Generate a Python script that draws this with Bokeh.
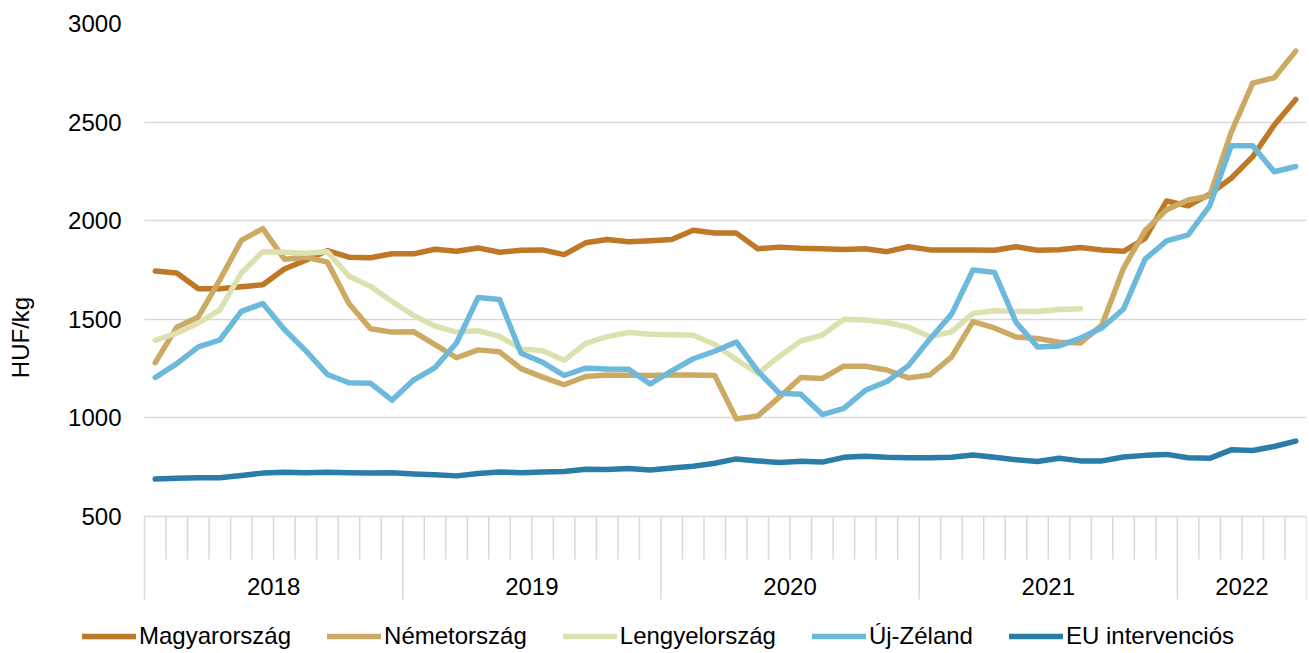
from bokeh.plotting import figure
from bokeh.models import Range1d, FixedTicker, Legend, LegendItem
from bokeh.core.properties import value
from bokeh.embed import file_html
from bokeh.resources import INLINE

# ---- data -------------------------------------------------------------
years = ["2018", "2019", "2020", "2021", "2022"]
months_per_year = [12, 12, 12, 12, 6]

series_names = ["Magyarország", "Németország", "Lengyelország", "Új-Zéland", "EU intervenciós"]

magyarorszag = [1745, 1735, 1655, 1655, 1665, 1675, 1755, 1800, 1848, 1815, 1812, 1832,
                1832, 1855, 1845, 1862, 1840, 1850, 1852, 1828, 1888, 1905, 1893, 1898,
                1905, 1952, 1938, 1937, 1858, 1866, 1860, 1858, 1854, 1858, 1843, 1868,
                1852, 1851, 1852, 1850, 1868, 1850, 1853, 1864, 1851, 1845, 1910, 2100,
                2075, 2135, 2215, 2325, 2485, 2615]

nemetorszag = [1280, 1460, 1512, 1700, 1900, 1960, 1805, 1815, 1790, 1580, 1452, 1435,
               1437, 1372, 1305, 1345, 1335, 1250, 1207, 1168, 1210, 1218, 1216, 1215,
               1217, 1218, 1215, 995, 1010, 1105, 1205, 1200, 1262, 1262, 1243, 1203,
               1218, 1308, 1488, 1456, 1410, 1403, 1384, 1380, 1472, 1760, 1950, 2055,
               2105, 2125, 2448, 2698, 2725, 2860]

lengyelorszag = [1393, 1430, 1480, 1548, 1735, 1843, 1840, 1835, 1843, 1718, 1667, 1590,
                 1520, 1466, 1435, 1442, 1413, 1350, 1340, 1292, 1378, 1412, 1433, 1424,
                 1422, 1419, 1372, 1296, 1225, 1312, 1390, 1420, 1500, 1497, 1484, 1460,
                 1412, 1436, 1530, 1543, 1540, 1540, 1550, 1554]

uj_zeland = [1205, 1275, 1360, 1395, 1540, 1580, 1448, 1340, 1220, 1178, 1176, 1090,
             1192, 1255, 1380, 1610, 1600, 1328, 1282, 1215, 1252, 1248, 1247, 1172,
             1238, 1300, 1338, 1385, 1237, 1125, 1120, 1017, 1048, 1140, 1185, 1265,
             1400, 1525, 1750, 1738, 1485, 1360, 1365, 1405, 1457, 1553, 1805, 1898,
             1928, 2075, 2380, 2380, 2248, 2275]

eu_intervencios = [690, 694, 697, 696, 708, 720, 724, 722, 724, 722, 720, 722,
                   716, 712, 706, 718, 726, 722, 726, 728, 740, 738, 743, 736,
                   746, 755, 770, 792, 782, 774, 780, 776, 800, 805, 800, 798,
                   798, 800, 812, 800, 788, 779, 795, 782, 782, 802, 810, 815,
                   798, 795, 838, 835, 855, 882]

y_ticks = [500, 1000, 1500, 2000, 2500, 3000]

# ---- style ------------------------------------------------------------
colors = ["#BF7826", "#CDAA64", "#DDE1AF", "#6DB9DC", "#2A7DA9"]
grid_color = "#D9D9D9"
font = "Liberation Sans"
fsize = "24px"

n_months = sum(months_per_year)
bounds = [0]
for m in months_per_year:
    bounds.append(bounds[-1] + m)
centers = [(bounds[k] + bounds[k + 1]) / 2 for k in range(len(years))]
minor = [m for m in range(1, n_months) if m not in bounds]

y_min, y_max = y_ticks[0], y_ticks[-1]
plot_w = 1162                     # px covered by the months
plot_h = 493                      # px between 500 and 3000
K = (y_max - y_min) / plot_h      # data units per pixel (y)
KX = n_months / plot_w            # months per pixel (x)
left_px = 66                      # frame room left of the first month (legend start)
long_tick = 83                    # px, year separators
short_tick = 43                   # px, month ticks
label_off = 70                    # px, year labels below axis
below_px = 135                    # px of frame kept below the 500 line (ticks + legend)
y_lo = y_min - below_px * K
x_lo = -left_px * KX

p = figure(frame_width=plot_w + left_px, frame_height=plot_h + below_px,
           x_range=Range1d(x_lo, n_months), y_range=Range1d(y_lo, y_max),
           output_backend="svg", toolbar_location=None, x_axis_type=None,
           min_border_left=78, min_border_right=2, min_border_top=23, min_border_bottom=0)
p.outline_line_color = None
p.background_fill_color = "white"
p.border_fill_color = "white"

# y axis
yt = FixedTicker(ticks=y_ticks, minor_ticks=[])
p.yaxis.ticker = yt
p.xgrid.visible = False
grid = p.ygrid[0]
grid.ticker = yt
grid.grid_line_color = grid_color
grid.grid_line_width = 1.5
if "cross_bounds" in grid.properties():
    grid.cross_bounds = (0, n_months)
else:
    grid.visible = False
    p.segment(x0=[0] * len(y_ticks), y0=y_ticks, x1=[n_months] * len(y_ticks), y1=y_ticks,
              line_color=grid_color, line_width=1.5, level="underlay")

ya = p.yaxis[0]
ya.axis_line_color = None
ya.major_tick_line_color = None
ya.minor_tick_line_color = None
ya.major_tick_out = 0
ya.major_tick_in = 0
ya.minor_tick_out = 0
ya.minor_tick_in = 0
ya.major_label_text_font = font
ya.major_label_text_font_size = fsize
ya.major_label_text_color = "black"
ya.major_label_standoff = -(left_px - 23)
ya.axis_label = "HUF/kg"
ya.axis_label_text_font = font
ya.axis_label_text_font_size = fsize
ya.axis_label_text_font_style = "normal"
ya.axis_label_text_color = "black"
ya.axis_label_standoff = 31

# category axis (months, year separators, year labels)
p.segment(x0=bounds, y0=[y_min] * len(bounds), x1=bounds, y1=[y_min - long_tick * K] * len(bounds),
          line_color=grid_color, line_width=1.5)
p.segment(x0=minor, y0=[y_min] * len(minor), x1=minor, y1=[y_min - short_tick * K] * len(minor),
          line_color=grid_color, line_width=1.5)
p.text(x=centers, y=[y_min - label_off * K] * len(centers), text=years,
       text_align="center", text_baseline="middle", text_color="black",
       text_font=value(font), text_font_size=value(fsize))

# lines
all_series = [magyarorszag, nemetorszag, lengyelorszag, uj_zeland, eu_intervencios]
items = []
for name, vals, col in zip(series_names, all_series, colors):
    xs = [i + 0.5 for i in range(len(vals))]
    r = p.line(xs, vals, line_color=col, line_width=5.5, line_cap="round", line_join="round")
    items.append(LegendItem(label=name, renderers=[r]))

legend = Legend(items=items, orientation="horizontal", location=(4, 1),
                label_text_font=font, label_text_font_size=fsize, label_text_color="black",
                glyph_width=54, glyph_height=28, label_height=28, label_standoff=3, spacing=36,
                padding=0, margin=0, border_line_color=None, background_fill_alpha=0)
p.add_layout(legend)

open("out.html", "w").write(file_html(p, INLINE))
